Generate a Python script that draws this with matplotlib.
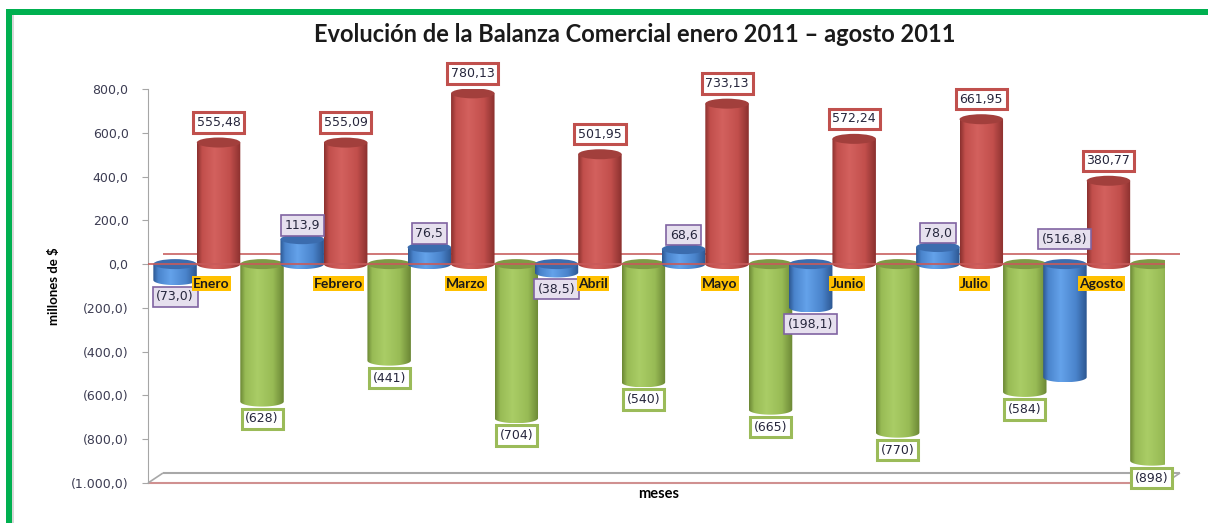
import numpy as np
import matplotlib
matplotlib.use("Agg")
import matplotlib.pyplot as plt
from matplotlib.patches import Ellipse, Rectangle, PathPatch
from matplotlib.path import Path
from matplotlib.colors import LinearSegmentedColormap
from matplotlib.ticker import FuncFormatter

# datos (millones de $)
meses = ["Enero", "Febrero", "Marzo", "Abril", "Mayo", "Junio", "Julio", "Agosto"]
balanza = [-73.0, 113.9, 76.5, -38.5, 68.6, -198.1, 78.0, -516.8]
exportaciones = [555.48, 555.09, 780.13, 501.95, 733.13, 572.24, 661.95, 380.77]
importaciones = [-628, -441, -704, -540, -665, -770, -584, -898]
yticks = [-1000, -800, -600, -400, -200, 0, 200, 400, 600, 800]

W, H = 1208, 523
fig = plt.figure(figsize=(W / 100, H / 100), dpi=100, facecolor="white")
ax = fig.add_axes([148 / W, 40 / H, 1017 / W, 394 / H])


def fmt(v, dec):
    s = f"{abs(v):,.{dec}f}".replace(",", "X").replace(".", ",").replace("X", ".")
    return f"({s})" if v < 0 else s


def make_cmap(dark, base, light):
    return LinearSegmentedColormap.from_list(
        "c", [(0, dark), (0.12, base), (0.4, light), (0.75, base), (1, dark)])


# estilo de cada serie: colormap, color de la tapa
estilos = {
    "balanza": (make_cmap("#2c5690", "#4a84cc", "#64a2ea"), "#3b6cae"),
    "export": (make_cmap("#8a302e", "#c24f4c", "#d3615e"), "#a23f3c"),
    "import": (make_cmap("#6a8634", "#98bb55", "#aacd66"), "#7e9a45"),
}

px_y = 394 / 1800.0          # pixeles por unidad
eh = 10 / px_y                # alto de la elipse
bw = 0.342                    # ancho de cada cilindro
shift = 0.055                 # desplazamiento por profundidad


def cylinder(xc, val, cmap, cap):
    x0, x1 = xc - bw / 2, xc + bw / 2
    top, bot = max(val, 0), min(val, 0)
    t = np.linspace(np.pi, 2 * np.pi, 50)
    verts = [(x0, top)] + list(zip(xc + bw / 2 * np.cos(t), bot + eh / 2 * np.sin(t))) + [(x1, top), (x0, top)]
    patch = PathPatch(Path(verts), facecolor="none", edgecolor="none")
    ax.add_patch(patch)
    grad = np.linspace(0, 1, 256).reshape(1, -1)
    im = ax.imshow(grad, extent=(x0, x1, bot - eh / 2, top), cmap=cmap, aspect="auto",
                   origin="lower", interpolation="bilinear", zorder=3)
    im.set_clip_path(patch)
    ax.add_patch(Ellipse((xc, top), bw, eh, facecolor=cap, edgecolor="none", zorder=3))


x = np.arange(len(meses))
for i in range(len(meses)):
    cylinder(x[i] + shift - bw, balanza[i], *estilos["balanza"])
    cylinder(x[i] + shift, exportaciones[i], *estilos["export"])
    cylinder(x[i] + shift + bw, importaciones[i], *estilos["import"])

ax.set_xlim(-0.5, len(meses) - 0.5)
ax.set_ylim(-1000, 800)
ax.set_autoscale_on(False)

# lineas de perspectiva
dx, dy = 15 / 127.1, 10 / px_y
xl, xr = -0.5, len(meses) - 0.5
kw = dict(clip_on=False, solid_capstyle="butt")
ax.plot([xl, xr], [0, 0], color="#c85a5a", lw=1.2, zorder=4, **kw)
ax.plot([xl + dx, xr + dx], [dy, dy], color="#c86060", lw=1.2, zorder=2.5, **kw)
ax.plot([xl, xr], [-1000, -1000], color="#d09090", lw=1.5, zorder=2, **kw)
ax.plot([xl + dx, xr + dx], [-1000 + dy, -1000 + dy], color="#a8a8a8", lw=1.5, zorder=2, **kw)
ax.plot([xl, xl + dx], [-1000, -1000 + dy], color="#a8a8a8", lw=1.2, zorder=2, **kw)
ax.plot([xr, xr + dx], [-1000, -1000 + dy], color="#a8a8a8", lw=1.2, zorder=2, **kw)

# etiquetas de valores
txt = dict(fontsize=9, color="#26263c", ha="center", va="center",
           textcoords="offset points", annotation_clip=False, zorder=6)
for i in range(len(meses)):
    xb = x[i] + shift - bw
    b = balanza[i]
    if b < -300:
        yb, off = 0, 18
    else:
        yb, off = b, (10 if b > 0 else -12)
    ax.annotate(fmt(b, 1), (xb, yb), xytext=(0, off),
                bbox=dict(boxstyle="square,pad=0.3", fc="#e6e0ee", ec="#8064a2", lw=1.2), **txt)
    ax.annotate(fmt(exportaciones[i], 2), (x[i] + shift, exportaciones[i]), xytext=(0, 14.4),
                bbox=dict(boxstyle="square,pad=0.3", fc="white", ec="#c0504d", lw=2.2), **txt)
    ax.annotate(fmt(importaciones[i], 0), (x[i] + shift + bw, importaciones[i]), xytext=(0, -12.5),
                bbox=dict(boxstyle="square,pad=0.3", fc="white", ec="#9bbb59", lw=2.2), **txt)
    ax.annotate(meses[i], (x[i], 0), xytext=(0, -14), textcoords="offset points",
                ha="center", va="center", fontsize=10, fontweight="bold", family="Lato",
                color="#1a1a1a", zorder=7,
                bbox=dict(boxstyle="square,pad=0.08", fc="#ffc000", ec="none"))

# ejes
ax.set_yticks(yticks)
ax.yaxis.set_major_formatter(FuncFormatter(lambda v, p: fmt(v, 1)))
ax.set_xticks([])
for s in ["top", "right", "bottom"]:
    ax.spines[s].set_visible(False)
ax.spines["left"].set_color("#a6a6a6")
ax.tick_params(axis="y", colors="#a6a6a6", labelcolor="#3c3c52", labelsize=9, length=4, pad=10)

fig.text(635 / W, 1 - 35 / H, "Evolución de la Balanza Comercial enero 2011 – agosto 2011",
         ha="center", va="center", fontsize=17, fontweight="bold", family="Lato", color="#1a1a1a")
fig.text(54 / W, 1 - 286 / H, "millones de $", rotation=90, ha="center", va="center",
         fontsize=9.5, fontweight="bold", family="Lato", color="black")
fig.text(659 / W, 1 - 494 / H, "meses", ha="center", va="center",
         fontsize=10.5, fontweight="bold", family="Lato", color="black")

# marco verde
fig.add_artist(Rectangle((6 / W, 0), 6 / W, 514 / H, transform=fig.transFigure, fc="#00b050", ec="none"))
fig.add_artist(Rectangle((6 / W, 508 / H), 1202 / W, 6 / H, transform=fig.transFigure, fc="#00b050", ec="none"))
fig.add_artist(Rectangle((12 / W, 0), 2 / W, 508 / H, transform=fig.transFigure, fc="#d8d8d8", ec="none"))

fig.savefig("out.png", dpi=100, facecolor="white")
